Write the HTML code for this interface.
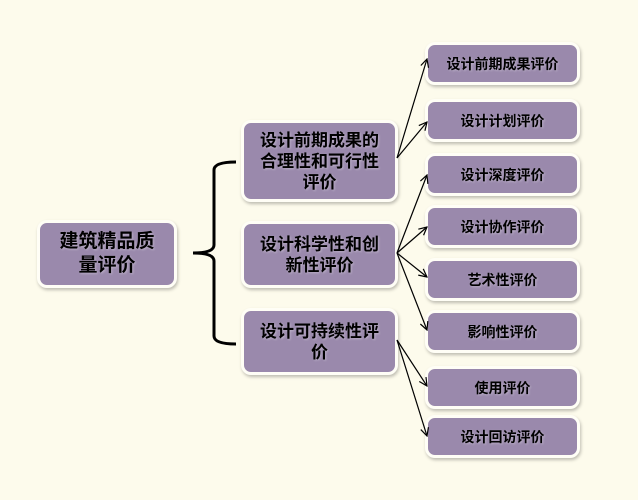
<!DOCTYPE html>
<html><head><meta charset="utf-8"><style>
body{margin:0;width:638px;height:500px;background:#fdfbec;position:relative;overflow:hidden;font-family:"Liberation Sans","Noto Sans CJK SC",sans-serif}
.b{position:absolute;box-sizing:border-box;background:#9a89ac;border:3px solid #fffef6;border-radius:10px;box-shadow:1px 2px 3px rgba(0,0,0,.25);display:flex;align-items:center;justify-content:center;text-align:center;color:#000;font-weight:bold;text-shadow:1px 1px 2px rgba(255,255,255,.35)}
.m{font-size:17px;line-height:21px}
.r{font-size:14px}
svg{position:absolute;left:0;top:0;z-index:5}
</style></head><body>
<div class="b m" style="left:37px;top:220px;width:140px;height:68px;font-size:19px;line-height:24px">建筑精品质<br>量评价</div>
<div class="b m" style="left:241px;top:120px;width:157px;height:82px">设计前期成果的<br>合理性和可行性<br>评价</div>
<div class="b m" style="left:241px;top:221px;width:157px;height:67px">设计科学性和创<br>新性评价</div>
<div class="b m" style="left:241px;top:308px;width:157px;height:67px">设计可持续性评<br>价</div>
<div class="b r" style="left:425px;top:42px;width:155px;height:43px">设计前期成果评价</div>
<div class="b r" style="left:425px;top:99px;width:155px;height:43px">设计计划评价</div>
<div class="b r" style="left:425px;top:153px;width:155px;height:43px">设计深度评价</div>
<div class="b r" style="left:425px;top:205px;width:155px;height:43px">设计协作评价</div>
<div class="b r" style="left:425px;top:258px;width:155px;height:43px">艺术性评价</div>
<div class="b r" style="left:425px;top:310px;width:155px;height:43px">影响性评价</div>
<div class="b r" style="left:425px;top:366px;width:155px;height:43px">使用评价</div>
<div class="b r" style="left:425px;top:415px;width:155px;height:43px">设计回访评价</div>
<svg width="638" height="500">
<defs><marker id="a" markerWidth="10" markerHeight="10" refX="9" refY="5" orient="auto" markerUnits="userSpaceOnUse"><path d="M1,1 L9,5 L1,9" fill="none" stroke="#000" stroke-width="1.2"/></marker></defs>
<path d="M236,162 Q214,162 214,170 L214,245 Q214,253 193,253 Q214,253 214,261 L214,336 Q214,344 236,344" fill="none" stroke="#000" stroke-width="3"/>
<g stroke="#000" stroke-width="1.2" fill="none" marker-end="url(#a)">
<line x1="397" y1="158" x2="427" y2="59"/>
<line x1="397" y1="158" x2="427" y2="122"/>
<line x1="397" y1="253" x2="427" y2="175"/>
<line x1="397" y1="253" x2="427" y2="227"/>
<line x1="397" y1="253" x2="427" y2="277"/>
<line x1="397" y1="253" x2="427" y2="330"/>
<line x1="397" y1="340" x2="427" y2="386"/>
<line x1="397" y1="340" x2="427" y2="436"/>
</g>
</svg>
</body></html>
